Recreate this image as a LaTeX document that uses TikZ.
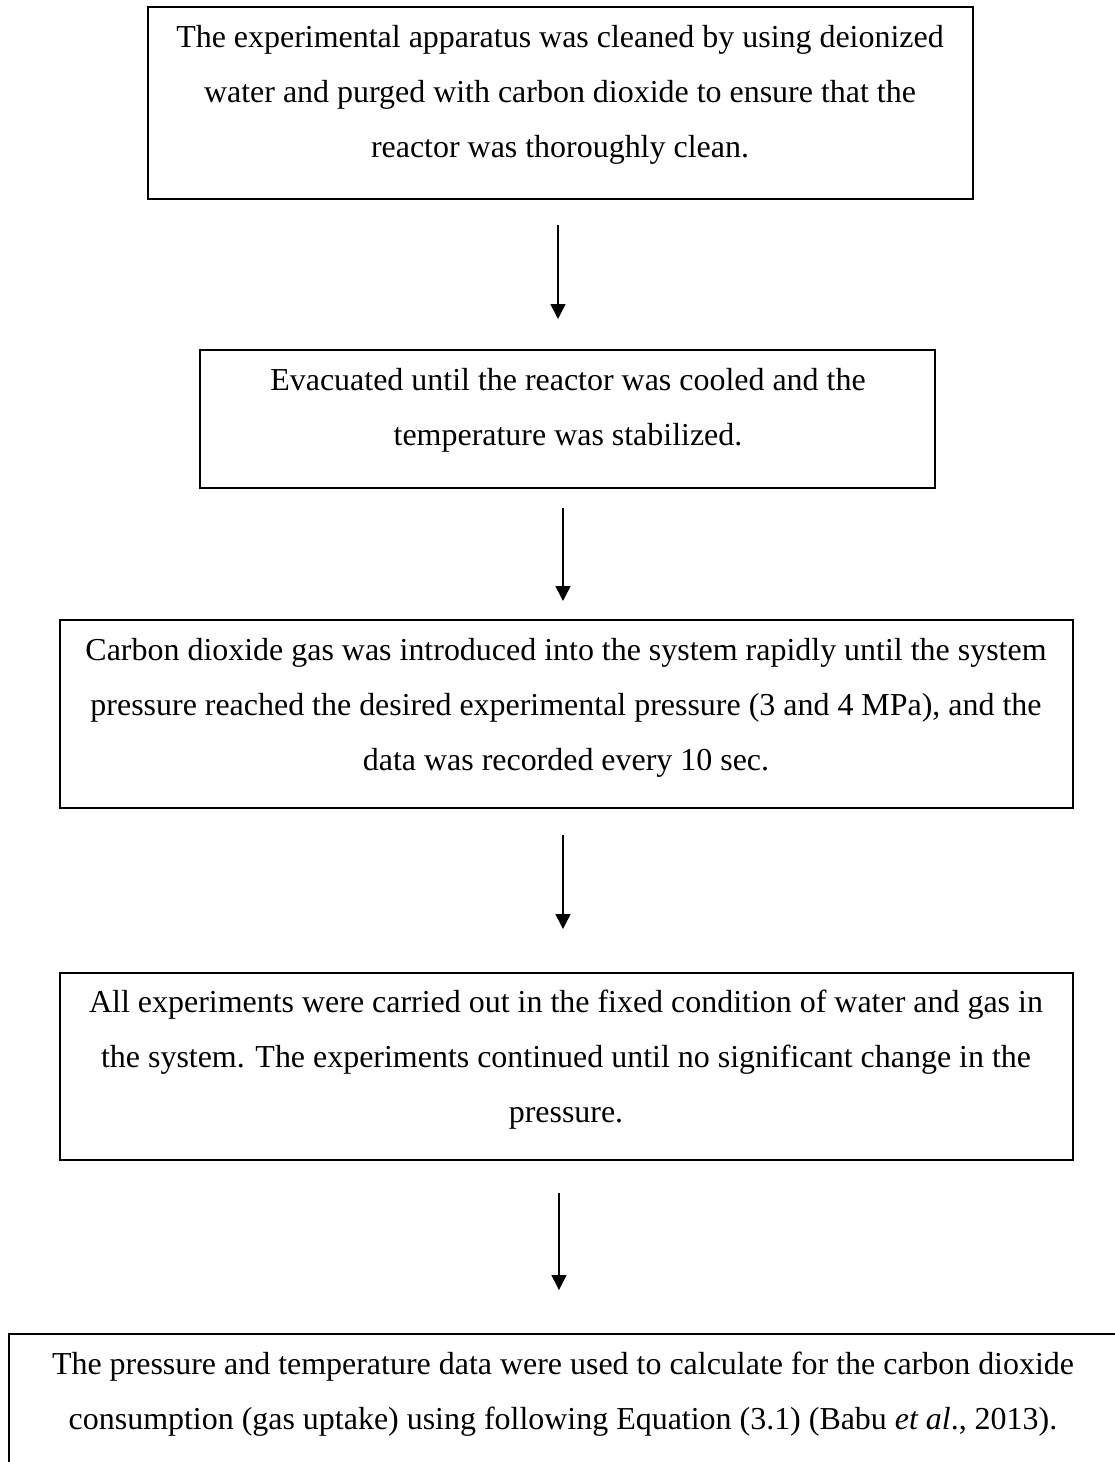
\documentclass[tikz,border=0pt]{standalone}
\usepackage{fontspec}
\setmainfont{Liberation Serif}
\usetikzlibrary{arrows.meta}
\begin{document}
\begin{tikzpicture}[x=1pt,y=-1pt,
  box/.style={draw=black, line width=2pt, inner sep=0pt, rectangle},
  txt/.style={align=center, inner sep=0pt, anchor=north, font=\fontsize{31.95}{55}\selectfont},
  arr/.style={line width=1.5pt, -{Triangle[length=15pt,width=15pt]}}
]
\useasboundingbox (0,0) rectangle (1115,1462);
\clip (0,0) rectangle (1115,1462);

% boxes
\node[box, minimum width=825pt, minimum height=192pt] (b1) at (560.5,103) {};
\node[box, minimum width=735pt, minimum height=138pt] (b2) at (567.5,419) {};
\node[box, minimum width=1013pt, minimum height=188pt] (b3) at (566.5,714) {};
\node[box, minimum width=1013pt, minimum height=187pt] (b4) at (566.5,1066.5) {};
\node[box, minimum width=1120pt, minimum height=180pt] (b5) at (569,1424) {};

% texts
\node[txt] (t1) at (560,8.5) {\strut The experimental apparatus was cleaned by using deionized\\
\strut water and purged with carbon dioxide to ensure that the\\
\strut reactor was thoroughly clean.};
\node[txt] (t2) at (568,351.5) {\strut Evacuated until the reactor was cooled and the\\
\strut temperature was stabilized.};
\node[txt] (t3) at (566,621.5) {\strut Carbon dioxide gas was introduced into the system rapidly until the system\\
\strut pressure reached the desired experimental pressure (3 and 4 MPa), and the\\
\strut data was recorded every 10 sec.};
\node[txt] (t4) at (566,973.5) {\strut All experiments were carried out in the fixed condition of water and gas in\\
\strut the system. The experiments continued until no significant change in the\\
\strut pressure.};
\node[txt] (t5) at (563,1335.5) {\strut The pressure and temperature data were used to calculate for the carbon dioxide\\
\strut consumption (gas uptake) using following Equation (3.1) (Babu \textit{et al}., 2013).};

% arrows
\coordinate (a1s) at (558,225);
\coordinate (a1e) at (558,319);
\coordinate (a2s) at (563,508);
\coordinate (a2e) at (563,601);
\coordinate (a3s) at (563,835);
\coordinate (a3e) at (563,929);
\coordinate (a4s) at (559,1193);
\coordinate (a4e) at (559,1290);
\draw[arr] (a1s) -- (a1e);
\draw[arr] (a2s) -- (a2e);
\draw[arr] (a3s) -- (a3e);
\draw[arr] (a4s) -- (a4e);
\end{tikzpicture}
\end{document}
